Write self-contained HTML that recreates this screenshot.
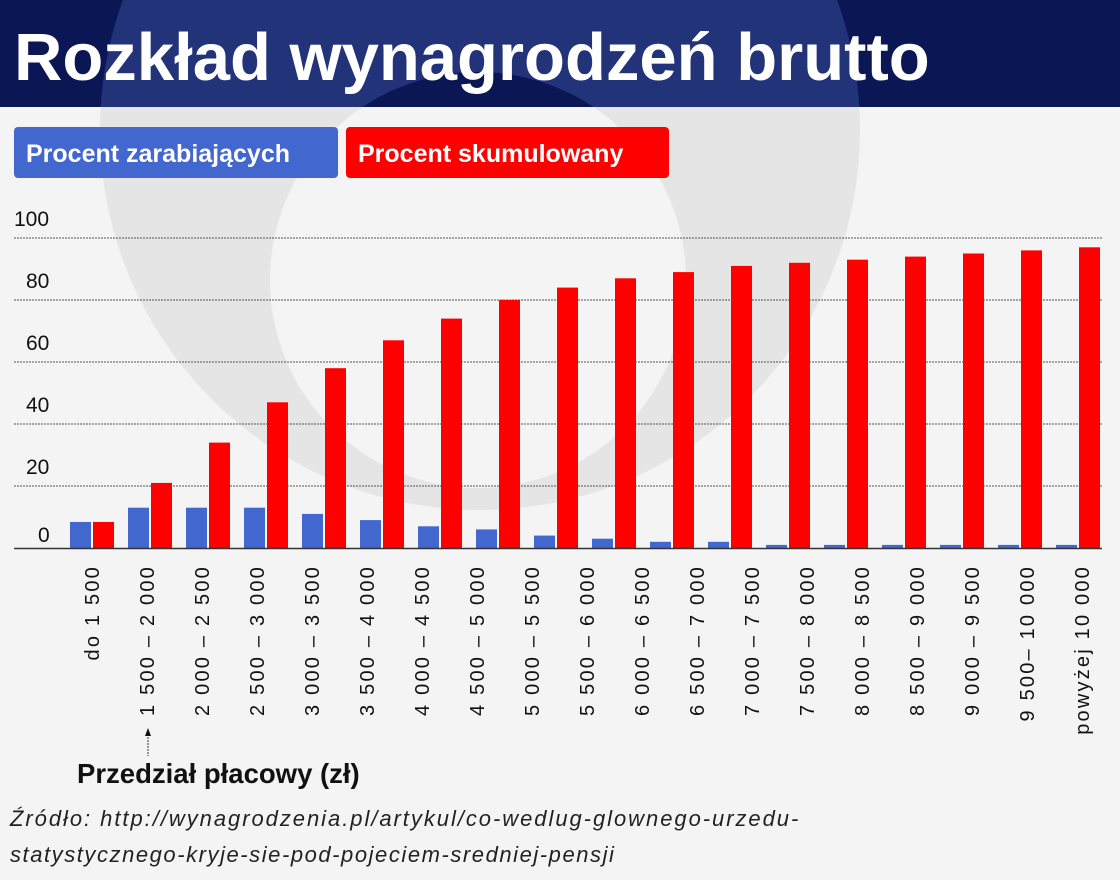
<!DOCTYPE html>
<html><head><meta charset="utf-8"><style>
body{margin:0}
#c{position:relative;width:1120px;height:880px;background:#f4f4f4;overflow:hidden;font-family:"Liberation Sans",sans-serif}
</style></head><body><div id="c">
<svg width="1120" height="880" style="position:absolute;left:0;top:0">
<clipPath id="hc"><rect x="0" y="0" width="1120" height="107"/></clipPath>
<circle cx="480" cy="130" r="380" fill="#e5e5e5"/>
<circle cx="478" cy="280" r="208" fill="#f4f4f4"/>
<rect x="0" y="0" width="1120" height="107" fill="#0b1655"/>
<circle cx="480" cy="130" r="380" fill="#22337a" clip-path="url(#hc)"/>
<circle cx="478" cy="280" r="208" fill="#0b1655" clip-path="url(#hc)"/>
<text x="14" y="80" fill="#fff" font-size="67" font-weight="bold">Rozkład wynagrodzeń brutto</text>
<rect x="14" y="127" width="324" height="51" rx="4" fill="#4267cf"/>
<text x="26" y="162" fill="#fff" font-size="25" font-weight="bold">Procent zarabiających</text>
<rect x="346" y="127" width="323" height="51" rx="4" fill="#ff0000"/>
<text x="358" y="162" fill="#fff" font-size="25" font-weight="bold">Procent skumulowany</text>
<g stroke="#555" stroke-width="1" stroke-dasharray="2,1">
<line x1="14" x2="1102" y1="238" y2="238"/><line x1="14" x2="1102" y1="300" y2="300"/>
<line x1="14" x2="1102" y1="362" y2="362"/><line x1="14" x2="1102" y1="424" y2="424"/>
<line x1="14" x2="1102" y1="486" y2="486"/></g>
<g font-size="21" fill="#111">
<text x="14" y="226">100</text><text x="26" y="288">80</text><text x="26" y="350">60</text>
<text x="26" y="412">40</text><text x="26" y="474">20</text><text x="38" y="542">0</text></g>
<g id="bars"></g>
<line x1="14" x2="1102" y1="548.5" y2="548.5" stroke="#333" stroke-width="1.5"/>
<g id="lab" font-size="20" fill="#111" letter-spacing="2.2"></g>
<line x1="148" x2="148" y1="734" y2="756" stroke="#333" stroke-dasharray="2,1"/>
<polygon points="148,728 145,736 151,736" fill="#111"/>
<text x="77" y="783" font-size="27.5" font-weight="bold" fill="#111">Przedział płacowy (zł)</text>
<text x="10" y="826" font-size="22" font-style="italic" fill="#222" letter-spacing="1.95">Źródło: http://wynagrodzenia.pl/artykul/co-wedlug-glownego-urzedu-</text>
<text x="10" y="862" font-size="22" font-style="italic" fill="#222" letter-spacing="1.55">statystycznego-kryje-sie-pod-pojeciem-sredniej-pensji</text>
</svg>
<script>
var b=[8.4,13,13,13,11,9,7,6,4,3,2,2,1,1,1,1,1,1];
var r=[8.4,21,34,47,58,67,74,80,84,87,89,91,92,93,94,95,96,97];
var L=["do 1 500","1 500 – 2 000","2 000 – 2 500","2 500 – 3 000","3 000 – 3 500","3 500 – 4 000","4 000 – 4 500","4 500 – 5 000","5 000 – 5 500","5 500 – 6 000","6 000 – 6 500","6 500 – 7 000","7 000 – 7 500","7 500 – 8 000","8 000 – 8 500","8 500 – 9 000","9 000 – 9 500","9 500– 10 000","powyżej 10 000"];
var s="",t="";
for(var i=0;i<18;i++){var x=70+58*i;
s+='<rect x="'+x+'" y="'+(548-b[i]*3.1)+'" width="21" height="'+(b[i]*3.1)+'" fill="#4267cf"/>';
s+='<rect x="'+(x+23)+'" y="'+(548-r[i]*3.1)+'" width="21" height="'+(r[i]*3.1)+'" fill="#ff0000"/>';}
for(var j=0;j<19;j++){var cx=92+55*j+7;
t+='<text transform="translate('+cx+',565) rotate(-90)" text-anchor="end">'+L[j]+'</text>';}
document.getElementById("bars").innerHTML=s;document.getElementById("lab").innerHTML=t;
</script>
</div></body></html>
